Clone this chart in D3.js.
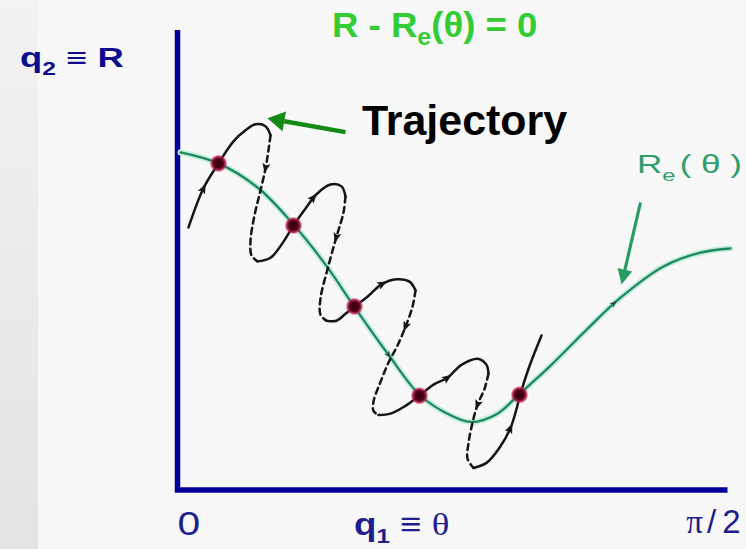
<!DOCTYPE html>
<html>
<head>
<meta charset="utf-8">
<script src="https://cdn.jsdelivr.net/npm/d3@7"></script>
<style>
  html, body { margin: 0; padding: 0; background: #f8f8f8; overflow: hidden; }
  text { font-family: "Liberation Sans", Arial, sans-serif; }
</style>
</head>
<body>
<svg id="chart" width="746" height="549"></svg>
<script>
// Coordinates: θ in degrees (0 … 90, i.e. 0 … π/2), R in arbitrary units (0 … 10).

// Equilibrium curve R_e(θ)
const reTheta = [0.49, 6.71, 13.25, 18.98, 24.55, 28.80, 34.53, 39.60, 43.86, 47.95, 52.36, 55.80, 60.71, 66.76, 72.49, 79.53, 85.58, 90.49];
const reR     = [7.34, 7.10, 6.56, 5.77, 4.84, 4.01, 2.94, 2.07, 1.68, 1.48, 1.66, 2.07, 2.66, 3.46, 4.18, 4.86, 5.16, 5.25];

// Points where the trajectory crosses R - R_e(θ) = 0
const crossTheta = [6.71, 18.98, 28.96, 39.60, 55.96];
const crossR     = [7.10, 5.75, 3.99, 2.05, 2.07];

// Trajectory pieces, in order; solid above the curve, dashed below
const trajSolid1 = [[1.80,5.71],[4.25,6.56],[6.71,7.10],[9.16,7.58],[11.13,7.82],[12.76,7.95],[14.40,7.91],[15.22,7.71]];
const trajDash1  = [[15.22,7.71],[14.89,7.39],[14.40,6.99],[13.58,6.51],[12.60,5.97],[11.95,5.42],[12.11,5.10],[13.09,4.97]];
const trajSolid2 = [[13.09,4.97],[15.22,5.05],[17.35,5.40],[18.98,5.75],[20.95,6.12],[22.75,6.43],[25.04,6.64],[26.84,6.60],[27.49,6.38]];
const trajDash2  = [[27.49,6.38],[27.16,6.03],[26.02,5.51],[24.71,4.88],[23.40,4.16],[23.40,3.81],[24.38,3.68]];
const trajSolid3 = [[24.38,3.68],[26.02,3.68],[27.49,3.83],[28.96,3.99],[31.09,4.20],[33.38,4.47],[35.84,4.58],[37.96,4.53],[38.95,4.34]];
const trajDash3  = [[38.95,4.34],[38.46,3.99],[37.31,3.55],[36.00,3.14],[34.53,2.77],[33.22,2.35],[32.07,1.92],[32.07,1.72],[32.89,1.63]];
const trajSolid4 = [[32.89,1.63],[34.86,1.66],[37.31,1.83],[39.60,2.05],[41.89,2.29],[44.18,2.44],[46.47,2.72],[49.26,2.85],[50.56,2.72],[50.89,2.53]];
const trajDash4  = [[50.89,2.53],[50.24,2.20],[49.09,1.85],[48.27,1.46],[47.62,1.02],[47.46,0.68],[48.44,0.48]];
const trajSolid5 = [[48.44,0.48],[50.56,0.59],[52.69,0.92],[54.49,1.35],[55.47,1.76],[56.13,2.09],[57.27,2.57],[58.42,2.98],[59.57,3.36]];

const trajPieces = [
  { pts: trajSolid1, dashed: false }, { pts: trajDash1, dashed: true },
  { pts: trajSolid2, dashed: false }, { pts: trajDash2, dashed: true },
  { pts: trajSolid3, dashed: false }, { pts: trajDash3, dashed: true },
  { pts: trajSolid4, dashed: false }, { pts: trajDash4, dashed: true },
  { pts: trajSolid5, dashed: false }
];

// Direction arrows: [piece index, θ, R]
const trajArrows = [[0,4.25,6.56],[1,14.40,6.99],[2,22.26,6.36],[3,25.86,5.49],[4,33.55,4.49],
                    [5,37.31,3.55],[6,44.18,2.44],[7,48.93,1.85],[8,54.49,1.35]];
const curveArrows = [[34.86,2.96],[71.35,4.07]];

// Annotation pointers: [from θ, from R, to θ, to R]
const trajPointer = [27.49, 7.78, 14.73, 8.08];
const rePointer   = [75.76, 6.25, 72.66, 4.47];

// Axis tick labels
const tickLabels = ["0", "π / 2"];

const svg = d3.select("#chart");
const W = 746, H = 549;

const x = d3.scaleLinear().domain([0, 90]).range([177.5, 727.5]);
const y = d3.scaleLinear().domain([0, 10]).range([490, 30]);

// Background with shaded strip on the left
const defs = svg.append("defs");
const strip = defs.append("linearGradient").attr("id", "strip").attr("x1", 0).attr("y1", 0).attr("x2", 0).attr("y2", 1);
strip.append("stop").attr("offset", "0%").attr("stop-color", "#f2f2f2");
strip.append("stop").attr("offset", "100%").attr("stop-color", "#e3e3e3");
const dotGrad = defs.append("radialGradient").attr("id", "dot");
dotGrad.append("stop").attr("offset", "0%").attr("stop-color", "#320010");
dotGrad.append("stop").attr("offset", "52%").attr("stop-color", "#4c0014");
dotGrad.append("stop").attr("offset", "78%").attr("stop-color", "#b8184a").attr("stop-opacity", 0.85);
dotGrad.append("stop").attr("offset", "100%").attr("stop-color", "#f04070").attr("stop-opacity", 0);
defs.append("filter").attr("id", "soft").append("feGaussianBlur").attr("stdDeviation", 0.45);

svg.append("rect").attr("width", W).attr("height", H).attr("fill", "#f8f8f8");
svg.append("rect").attr("width", 38).attr("height", H).attr("fill", "url(#strip)");

const line = d3.line().x(d => x(d[0])).y(d => y(d[1])).curve(d3.curveCatmullRom.alpha(0.5));

// Axes
const axisColor = "#000099";
svg.append("path")
  .attr("d", `M${x(0)},${y(10)}V${y(0)}H${x(90)}`)
  .attr("fill", "none").attr("stroke", axisColor).attr("stroke-width", 5.5);

// Equilibrium curve with a pale halo
const rePts = reTheta.map((t, i) => [t, reR[i]]);
svg.append("path").attr("d", line(rePts)).attr("fill", "none")
  .attr("stroke", "#c8ece0").attr("stroke-width", 6).attr("stroke-linecap", "round");
svg.append("path").attr("d", line(rePts)).attr("fill", "none")
  .attr("stroke", "#1a8a5a").attr("stroke-width", 2.3).attr("stroke-linecap", "round")
  .attr("filter", "url(#soft)");

// Trajectory
const trajG = svg.append("g").attr("filter", "url(#soft)");
const pieceNodes = trajG.selectAll("path.piece").data(trajPieces).join("path")
  .attr("class", "piece")
  .attr("d", d => line(d.pts))
  .attr("fill", "none")
  .attr("stroke", "#141414")
  .attr("stroke-width", 2.5)
  .attr("stroke-linecap", "round")
  .attr("stroke-dasharray", d => d.dashed ? "6,4.5" : null)
  .nodes();

// Place an arrowhead on a path at the point nearest to (px, py)
function arrowOn(node, px, py, len, half, g, color) {
  const L = node.getTotalLength();
  let best = 0, bestD = Infinity;
  for (let s = 0; s <= L; s += 0.5) {
    const p = node.getPointAtLength(s);
    const dd = (p.x - px) ** 2 + (p.y - py) ** 2;
    if (dd < bestD) { bestD = dd; best = s; }
  }
  const a = node.getPointAtLength(Math.max(0, best - 2));
  const b = node.getPointAtLength(Math.min(L, best + 2));
  const ang = Math.atan2(b.y - a.y, b.x - a.x) * 180 / Math.PI;
  const c = node.getPointAtLength(best);
  g.append("path")
    .attr("d", `M${len / 2},0L${-len / 2},${-half}L${-len / 2 + 2},0L${-len / 2},${half}Z`)
    .attr("transform", `translate(${c.x},${c.y}) rotate(${ang})`)
    .attr("fill", color);
}

trajArrows.forEach(([i, t, r]) => arrowOn(pieceNodes[i], x(t), y(r), 10, 4, trajG, "#141414"));

const reNode = svg.append("path").attr("d", line(rePts)).attr("fill", "none").attr("stroke", "none").node();
curveArrows.forEach(([t, r]) => arrowOn(reNode, x(t), y(r), 7, 2.8, svg, "#1f4a38"));

// Crossing points
svg.selectAll("circle.cross").data(crossTheta.map((t, i) => [t, crossR[i]])).join("circle")
  .attr("class", "cross")
  .attr("cx", d => x(d[0])).attr("cy", d => y(d[1]))
  .attr("r", 9).attr("fill", "url(#dot)");

// Pointer arrows
function pointer(p, color, width, headLen, headHalf) {
  const x1 = x(p[0]), y1 = y(p[1]), x2 = x(p[2]), y2 = y(p[3]);
  const ang = Math.atan2(y2 - y1, x2 - x1);
  const bx = x2 - headLen * Math.cos(ang), by = y2 - headLen * Math.sin(ang);
  svg.append("line").attr("x1", x1).attr("y1", y1).attr("x2", bx).attr("y2", by)
    .attr("stroke", color).attr("stroke-width", width);
  const nx = -Math.sin(ang), ny = Math.cos(ang);
  svg.append("path")
    .attr("d", `M${x2},${y2}L${bx + nx * headHalf},${by + ny * headHalf}L${bx - nx * headHalf},${by - ny * headHalf}Z`)
    .attr("fill", color);
}
pointer(trajPointer, "#138a13", 4.5, 17, 10);
pointer(rePointer, "#2a9a64", 3.2, 15, 7.5);

// Text
const title = svg.append("text").attr("transform", "translate(332,37) scale(1.045,1)")
  .attr("font-size", 35).attr("font-weight", "bold").attr("fill", "#33cc33");
title.append("tspan").text("R - R");
title.append("tspan").attr("font-size", 24).attr("dy", 8).text("e");
title.append("tspan").attr("dy", -8).text("(θ) = 0");

svg.append("text").attr("x", 362).attr("y", 135)
  .attr("font-size", 42).attr("font-weight", "bold").attr("fill", "#000")
  .attr("textLength", 205).attr("lengthAdjust", "spacingAndGlyphs").text("Trajectory");

const q2 = svg.append("text").attr("transform", "translate(20,67) scale(1.3,1)")
  .attr("font-size", 28).attr("font-weight", "bold").attr("fill", "#0c0c8c");
q2.append("tspan").text("q");
q2.append("tspan").attr("font-size", 19).attr("dy", 8).text("2");
q2.append("tspan").attr("dy", -8).text(" ≡ R");

const labelBlue = "#1e1e8e";
svg.append("text").attr("transform", `translate(${x(0)},535) scale(1.2,1)`)
  .attr("font-size", 34).attr("fill", labelBlue).text(tickLabels[0]);

const q1 = svg.append("text").attr("transform", "translate(354,535) scale(1.15,1)")
  .attr("font-size", 32).attr("fill", labelBlue);
q1.append("tspan").attr("font-weight", "bold").text("q");
q1.append("tspan").attr("font-weight", "bold").attr("font-size", 21).attr("dy", 8).text("1");
q1.append("tspan").attr("dy", -8).text(" ≡ ");
q1.append("tspan").attr("font-family", "'Liberation Serif', serif").text("θ");

// π / 2 tick label: serif π, sans-serif "/ 2", tight spacing
const [piPart, restPart] = [tickLabels[1].split(" / ")[0], tickLabels[1].split(" / ")[1]];
const piLabel = svg.append("text").attr("x", x(90) + 13).attr("y", 533)
  .attr("text-anchor", "end").attr("font-size", 33).attr("fill", labelBlue);
piLabel.append("tspan").attr("font-family", "'Liberation Serif', serif").text(piPart);
piLabel.append("tspan").attr("dx", 4).text("/");
piLabel.append("tspan").attr("dx", 6).text(restPart);

const reLabel = svg.append("text").attr("transform", "translate(637,173) scale(1.4,1)")
  .attr("font-size", 25).attr("fill", "#2e9e6e");
reLabel.append("tspan").text("R");
reLabel.append("tspan").attr("font-size", 17).attr("dy", 8).text("e");
reLabel.append("tspan").attr("dy", -8).attr("dx", 3).text("( θ )");
</script>
</body>
</html>
